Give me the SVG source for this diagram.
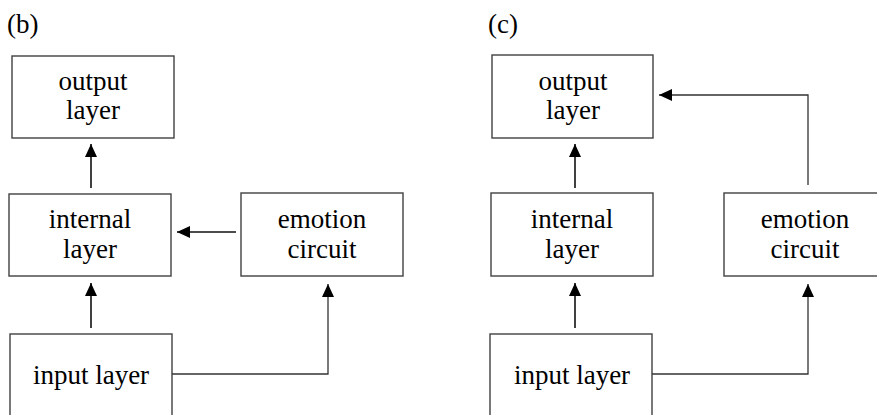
<svg xmlns="http://www.w3.org/2000/svg" width="877" height="415" viewBox="0 0 877 415">
<defs>
<marker id="ah" markerUnits="userSpaceOnUse" markerWidth="14" markerHeight="12" refX="13" refY="6" orient="auto">
<path d="M0,0 L13,6 L0,12 Z" fill="#000"/>
</marker>
<style>
.box{fill:#fff;stroke:#404040;stroke-width:1.4}
.t{font-family:"Liberation Serif","Times New Roman",serif;font-size:27px;fill:#000;text-anchor:middle}
.lbl{font-family:"Liberation Serif","Times New Roman",serif;font-size:27px;fill:#000}
.c{fill:none;stroke:#111;stroke-width:1.6}
.c2{fill:none;stroke:#333;stroke-width:1.3}
</style>
</defs>
<rect width="877" height="415" fill="#fff"/>
<text class="lbl" x="7" y="33">(b)</text>
<text class="lbl" x="488" y="33">(c)</text>
<g id="b-output"><rect class="box" x="12" y="56" width="162" height="82"/><text class="t" x="93" y="90">output</text><text class="t" x="93" y="119">layer</text></g>
<g id="b-internal"><rect class="box" x="9" y="194" width="162" height="82"/><text class="t" x="90" y="228">internal</text><text class="t" x="90" y="258">layer</text></g>
<g id="b-emotion"><rect class="box" x="241" y="193" width="162" height="83"/><text class="t" x="322" y="228">emotion</text><text class="t" x="322" y="258">circuit</text></g>
<g id="b-input"><rect class="box" x="10" y="334" width="162" height="90"/><text class="t" x="91" y="384">input layer</text></g>
<g id="c-output"><rect class="box" x="492" y="55" width="161" height="83"/><text class="t" x="573" y="90">output</text><text class="t" x="573" y="119">layer</text></g>
<g id="c-internal"><rect class="box" x="491" y="193" width="162" height="83"/><text class="t" x="572" y="228">internal</text><text class="t" x="572" y="258">layer</text></g>
<g id="c-emotion"><rect class="box" x="724" y="193" width="162" height="83"/><text class="t" x="805" y="228">emotion</text><text class="t" x="805" y="258">circuit</text></g>
<g id="c-input"><rect class="box" x="490" y="334" width="162" height="90"/><text class="t" x="572" y="384">input layer</text></g>
<g id="connectors">
<line class="c" x1="91" y1="188" x2="91" y2="144" marker-end="url(#ah)"/>
<line class="c" x1="236" y1="232" x2="177" y2="232" marker-end="url(#ah)"/>
<line class="c" x1="91" y1="328" x2="91" y2="283" marker-end="url(#ah)"/>
<polyline class="c2" points="172,374 328,374 328,284" marker-end="url(#ah)"/>
<line class="c" x1="575" y1="188" x2="575" y2="144" marker-end="url(#ah)"/>
<line class="c" x1="575" y1="328" x2="575" y2="283" marker-end="url(#ah)"/>
<polyline class="c2" points="652,374 808,374 808,284" marker-end="url(#ah)"/>
<polyline class="c2" points="808,185 808,95 659,95" marker-end="url(#ah)"/>
</g>
</svg>
